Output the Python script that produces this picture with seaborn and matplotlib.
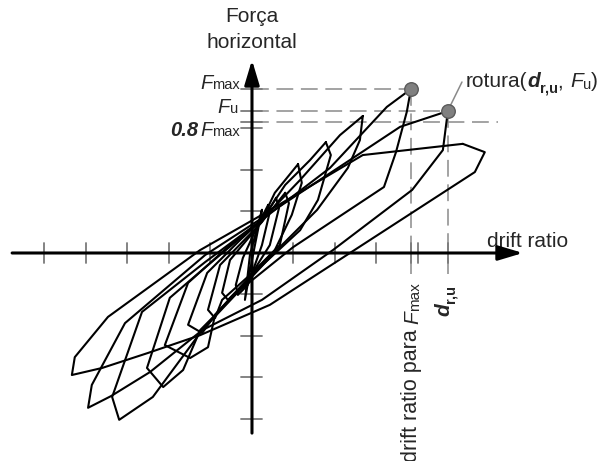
import matplotlib
matplotlib.use("Agg")
import matplotlib.pyplot as plt
import pandas as pd
import seaborn as sns

sns.set_theme(style="white")
plt.rcParams["font.family"] = ["Liberation Sans", "DejaVu Sans"]

# Characteristic points of the response envelope (axis units)
F_MAX = 3.95        # peak horizontal force
F_U = 3.42          # force at failure
F_08 = 0.8 * F_MAX  # 80 % of the peak force
DRIFT_FMAX = 3.83   # drift ratio at peak force
DRIFT_U = 4.72      # ultimate drift ratio d_r,u

# Hysteresis cycles: (drift ratio, horizontal force) vertices in loading order
cycle_0 = [(0.24, 1.04), (-0.05, -0.05), (-0.17, -1.13), (0.00, -0.17), (0.24, 1.04)]
cycle_1 = [(0.39, 1.16), (0.43, 0.99), (0.24, 0.19), (-0.10, -0.77), (-0.34, -1.01),
           (-0.39, -0.77), (-0.22, -0.12), (0.14, 0.67), (0.39, 1.16)]
cycle_2 = [(0.58, 1.33), (0.65, 1.08), (0.43, 0.19), (-0.10, -0.65), (-0.58, -1.13),
           (-0.72, -0.96), (-0.53, -0.17), (0.24, 0.75), (0.58, 1.33)]
cycle_3 = [(0.80, 1.45), (0.89, 1.20), (0.67, 0.19), (-0.05, -0.53), (-0.72, -1.13),
           (-0.89, -1.57), (-1.06, -1.37), (-0.77, -0.29), (0.24, 0.75), (0.80, 1.45)]
cycle_4 = [(1.11, 2.14), (1.20, 1.69), (0.96, 0.92), (0.55, 0.07), (-0.17, -0.70),
           (-0.89, -1.49), (-1.20, -1.93), (-1.54, -1.73), (-1.08, -0.48), (-0.29, 0.31),
           (0.24, 0.80), (0.55, 1.45), (1.11, 2.14)]
cycle_5 = [(1.78, 2.67), (1.90, 2.36), (1.59, 1.28), (1.16, 0.55), (0.07, -0.46),
           (-0.89, -1.49), (-1.06, -2.27), (-1.49, -2.53), (-2.10, -2.22), (-1.54, -0.72),
           (-0.53, 0.19), (0.24, 0.80), (0.80, 1.64), (1.40, 2.24), (1.78, 2.67)]
cycle_6 = [(2.67, 3.30), (2.60, 2.72), (2.31, 2.05), (1.57, 1.04), (0.60, 0.07),
           (-0.41, -1.01), (-1.25, -1.86), (-1.66, -2.82), (-2.14, -3.23), (-2.53, -2.77),
           (-1.98, -1.08), (-1.06, -0.29), (0.24, 0.80), (1.16, 1.76), (2.12, 2.84),
           (2.67, 3.30)]
cycle_7 = [(DRIFT_FMAX, F_MAX), (3.73, 3.40), (3.47, 2.43), (3.18, 1.59), (0.99, 0.14),
           (-0.29, -0.89), (-1.20, -1.86), (-2.39, -3.47), (-3.20, -4.02), (-3.37, -3.47),
           (-2.65, -1.42), (-1.13, -0.22), (0.24, 0.80), (1.88, 2.05), (3.25, 3.52),
           (DRIFT_FMAX, F_MAX)]
cycle_8 = [(DRIFT_U, F_U), (4.60, 2.48), (3.86, 1.52), (1.95, 0.07), (0.24, -1.13),
           (-1.20, -1.86), (-2.46, -2.87), (-3.40, -3.45), (-3.95, -3.73), (-3.86, -3.18),
           (-3.06, -1.69), (-1.13, -0.05), (0.24, 0.84), (2.36, 2.24), (3.57, 3.04),
           (DRIFT_U, F_U)]
cycle_9 = [(5.08, 2.63), (5.61, 2.43), (5.37, 1.95), (2.36, 0.00), (0.43, -1.25),
           (-1.25, -1.98), (-2.51, -2.41), (-3.61, -2.77), (-4.34, -2.94), (-4.27, -2.51),
           (-3.47, -1.54), (-1.25, 0.07), (0.24, 0.92), (2.67, 2.36), (5.08, 2.63)]

cycles = [cycle_0, cycle_1, cycle_2, cycle_3, cycle_4,
          cycle_5, cycle_6, cycle_7, cycle_8, cycle_9]

# Axis tick positions
x_ticks = [-5, -4, -3, -2, -1, 1, 2, 3, 4]
y_ticks = [-4, -3, -2, -1, 1, 2, 3]

# Axis extents
X_AXIS = (-5.78, 6.53)
Y_AXIS = (-4.34, 4.65)

rows = [
    {"cycle": i, "step": j, "drift": x, "force": y}
    for i, cyc in enumerate(cycles)
    for j, (x, y) in enumerate(cyc)
]
df = pd.DataFrame(rows)

fig = plt.figure(figsize=(6.0, 4.61), dpi=100)
ax = fig.add_axes([0, 0, 1, 1])

GRAY = "#8a8a8a"
TICK = "#7a7a7a"
dash_kw = dict(color=GRAY, lw=1.1, dashes=(11, 5), zorder=1)

# Reference lines to the characteristic points
ax.plot([0, DRIFT_FMAX], [F_MAX, F_MAX], **dash_kw)
ax.plot([0, DRIFT_U], [F_U, F_U], **dash_kw)
ax.plot([0, 5.92], [F_08, F_08], **dash_kw)
ax.plot([DRIFT_FMAX, DRIFT_FMAX], [F_MAX, -0.5], **dash_kw)
ax.plot([DRIFT_U, DRIFT_U], [F_U, -0.5], **dash_kw)

# Hysteresis loops
sns.lineplot(data=df, x="drift", y="force", units="cycle", estimator=None,
             sort=False, color="black", lw=1.5, legend=False, ax=ax, zorder=3)

# Ticks
for xt in x_ticks + [DRIFT_FMAX, DRIFT_U]:
    ax.plot([xt, xt], [-0.25, 0.25], color=TICK, lw=1.3, zorder=2)
for yt in y_ticks + [F_MAX, F_U, F_08]:
    ax.plot([-0.27, 0.25], [yt, yt], color=TICK, lw=1.3, zorder=2)

# Axes with arrow heads
arrow = dict(arrowstyle="-|>,head_length=1.0,head_width=0.3", color="black",
             lw=2.2, mutation_scale=15, shrinkA=0, shrinkB=0)
ax.annotate("", xy=(X_AXIS[1], 0), xytext=(X_AXIS[0], 0), arrowprops=arrow, zorder=4)
ax.annotate("", xy=(0, Y_AXIS[1]), xytext=(0, Y_AXIS[0]), arrowprops=arrow, zorder=4)

# Failure and peak markers
sns.scatterplot(x=[DRIFT_FMAX, DRIFT_U], y=[F_MAX, F_U], s=95, color="#808080",
                edgecolor="#5a5a5a", linewidth=1.0, ax=ax, zorder=5, legend=False)
ax.plot([4.78, 5.06], [3.55, 4.12], color=GRAY, lw=1.1, zorder=4)

# Axis titles
ax.text(0, 5.69, "Força", ha="center", va="center", fontsize=15)
ax.text(0, 5.06, "horizontal", ha="center", va="center", fontsize=15)
ax.text(5.66, 0.15, "drift ratio", ha="left", va="baseline", fontsize=15)


def chain(first, pieces, rotated=False):
    """Place text pieces one after another, each relative to the previous one."""
    prev = first
    for text, kw, shift in pieces:
        if rotated:
            prev = ax.annotate(text, xy=(1, 0), xycoords=prev, xytext=(shift, 0),
                               textcoords="offset points", rotation=90,
                               ha="right", va="top", **kw)
        else:
            prev = ax.annotate(text, xy=(1, 0), xycoords=prev, xytext=(0, -shift),
                               textcoords="offset points", ha="left", va="bottom", **kw)
    return prev


big_it = dict(fontsize=14.5, fontstyle="italic")
small = dict(fontsize=10.5)

# Force level labels on the vertical axis
f1 = ax.text(-0.96, F_MAX, "F", ha="right", va="baseline", **big_it)
chain(f1, [("max", small, -0.5)])
f2 = ax.text(-0.53, F_U - 0.05, "F", ha="right", va="baseline", **big_it)
chain(f2, [("u", small, -0.5)])
f3 = ax.text(-0.96, F_08 - 0.34, "F", ha="right", va="baseline", **big_it)
chain(f3, [("max", small, -0.5)])
ax.annotate("0.8", xy=(0, 0), xycoords=f3, xytext=(-1, 0), textcoords="offset points",
            ha="right", va="bottom", fontsize=14.5, fontstyle="italic", fontweight="bold")

# Failure point label
r0 = ax.text(5.16, 3.99, "rotura(", ha="left", va="baseline", fontsize=15)
chain(r0, [
    ("d", dict(fontsize=15, fontstyle="italic", fontweight="bold"), 0),
    ("r,u", dict(fontsize=10.5, fontweight="bold"), 3),
    (", ", dict(fontsize=15), -3),
    ("F", dict(fontsize=15, fontstyle="italic"), 0),
    ("u", dict(fontsize=10.5), 0.5),
    (")", dict(fontsize=15), -0.5),
])

# Drift labels under the horizontal axis
m0 = ax.text(4.10, -0.70, "max", rotation=90, ha="right", va="top", fontsize=11)
chain(m0, [
    ("F", dict(fontsize=15, fontstyle="italic"), 0.5),
    ("drift ratio para ", dict(fontsize=15.5), -0.5),
], rotated=True)
d0 = ax.text(4.96, -0.77, "r,u", rotation=90, ha="right", va="top",
             fontsize=10.5, fontweight="bold")
chain(d0, [("d", dict(fontsize=15, fontstyle="italic", fontweight="bold"), -3)],
      rotated=True)

ax.set_xlim(-6.072, 8.386)
ax.set_ylim(-5.012, 6.096)
ax.axis("off")

fig.savefig("out.png", dpi=100)
